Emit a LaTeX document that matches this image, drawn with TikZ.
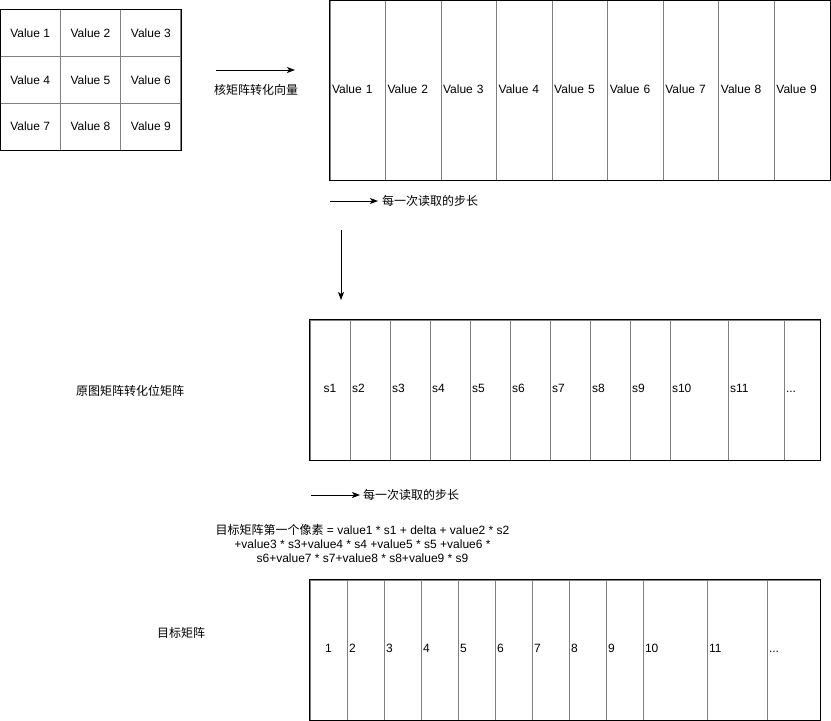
\documentclass[tikz,border=0pt]{standalone}
\usepackage{fontspec}
\setmainfont{Liberation Sans}
\newfontfamily\cjk{Noto Sans CJK SC}
\usetikzlibrary{arrows.meta}
\definecolor{divgray}{HTML}{808080}
\begin{document}
\begin{tikzpicture}[x=1pt,y=-1pt,
  every node/.style={font=\fontsize{12}{14}\selectfont, text=black},
  kcell/.style={draw=divgray, line width=1pt, minimum width=60.33pt, minimum height=46.67pt, inner sep=0pt},
  ccell/.style={draw=divgray, line width=1pt, minimum width=#1, minimum height=140pt, inner sep=0pt, execute at begin node=\strut},
  lcell/.style={draw=divgray, line width=1pt, text width=#1, align=left, inner xsep=2pt, inner ysep=0pt, execute at begin node=\strut},
  outer/.style={draw=black, line width=1pt},
  arr/.style={draw=black, line width=1pt, -{Stealth[length=8pt,width=6pt,inset=2pt]}},
  lbl/.style={inner sep=1pt}
]
\useasboundingbox (0,0) rectangle (831,721);

% kernel 3x3
\node[kcell] (k11) at (30.17,33.33) {Value 1};
\node[kcell] (k12) at (90.5,33.33) {Value 2};
\node[kcell] (k13) at (150.83,33.33) {Value 3};
\node[kcell] (k21) at (30.17,80) {Value 4};
\node[kcell] (k22) at (90.5,80) {Value 5};
\node[kcell] (k23) at (150.83,80) {Value 6};
\node[kcell] (k31) at (30.17,126.67) {Value 7};
\node[kcell] (k32) at (90.5,126.67) {Value 8};
\node[kcell] (k33) at (150.83,126.67) {Value 9};
\draw[outer] ([xshift=0.5pt]k11.north west) rectangle (k33.south east);

% kernel -> vector arrow
\coordinate (ka) at (216,70);
\coordinate (kb) at (295,70);
\draw[arr] (ka) -- (kb);
\node[lbl] (klab) at (256,90) {\cjk 核矩阵转化向量};

% top vector
\foreach \i in {1,...,9}{
  \node[lcell=51.56pt, minimum height=179.5pt] (v\i) at ({330+55.556*(\i-0.5)},90.25) {Value \i};
}
\draw[outer] (v1.north west) rectangle (v9.south east);

% step label 1
\coordinate (sa) at (330,201);
\node[anchor=west, inner xsep=4pt, inner ysep=1pt] (st1) at (378,201) {\cjk 每一次读取的步长};
\draw[arr] (sa) -- (st1.west);

% down arrow
\coordinate (da) at (341,230);
\coordinate (db) at (341,300);
\draw[arr] (da) -- (db);

% source matrix label
\node[lbl] (srclab) at (130,391) {\cjk 原图矩阵转化位矩阵};

% second vector
\node[ccell=40pt] (s1) at (330,390) {s1};
\foreach \i in {2,...,9}{
  \node[lcell=36pt, minimum height=140pt] (s\i) at ({350+40*(\i-2)+20},390) {s\i};
}
\node[lcell=54pt, minimum height=140pt] (s10) at (699,390) {s10};
\node[lcell=52pt, minimum height=140pt] (s11) at (756,390) {s11};
\node[lcell=32pt, minimum height=140pt] (s12) at (802,390) {...};
\draw[outer] (s1.north west) rectangle (s12.south east);

% step label 2
\coordinate (sb) at (311,495);
\node[anchor=west, inner xsep=3pt, inner ysep=1pt] (st2) at (360,495) {\cjk 每一次读取的步长};
\draw[arr] (sb) -- (st2.west);

% formula
\node[align=center, inner sep=0pt] (formula) at (362.5,543) {{\cjk 目标矩阵第一个像素} = value1 * s1 + delta + value2 * s2\\+value3 * s3+value4 * s4 +value5 * s5 +value6 *\\s6+value7 * s7+value8 * s8+value9 * s9};

% target label
\node[lbl] (tgtlab) at (181,633) {\cjk 目标矩阵};

% target vector
\node[ccell=37pt] (t1) at (328.5,650) {1};
\foreach \i in {2,...,9}{
  \node[lcell=33pt, minimum height=140pt] (t\i) at ({347+37*(\i-2)+18.5},650) {\i};
}
\node[lcell=60pt, minimum height=140pt] (t10) at (675,650) {10};
\node[lcell=56pt, minimum height=140pt] (t11) at (737,650) {11};
\node[lcell=49pt, minimum height=140pt] (t12) at (793.5,650) {...};
\draw[outer] (t1.north west) rectangle (t12.south east);
\end{tikzpicture}
\end{document}
